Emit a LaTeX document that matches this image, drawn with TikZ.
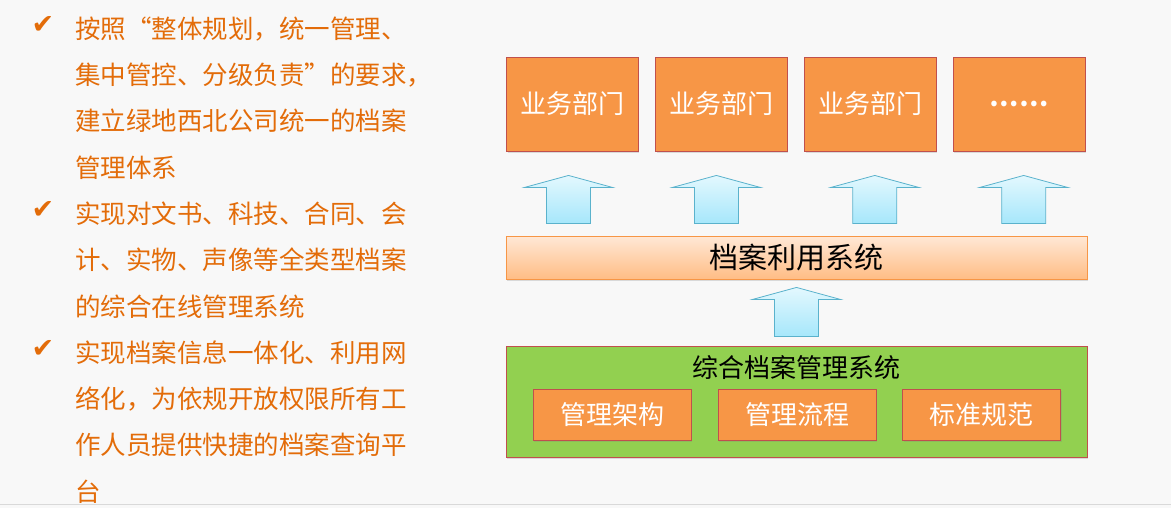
\documentclass[tikz,border=0pt]{standalone}
\usepackage{fontspec}
\newfontfamily\cjk{Noto Sans CJK SC}
\newfontfamily\symb{DejaVu Sans}
\usetikzlibrary{positioning,calc,shadows}

\definecolor{bgcol}{HTML}{F8F8F8}
\definecolor{txtorange}{HTML}{E36C09}
\definecolor{boxorange}{HTML}{F79646}
\definecolor{boxred}{HTML}{C0504D}
\definecolor{sysgreen}{HTML}{92D050}
\definecolor{arrowtop}{HTML}{E3F8FE}
\definecolor{arrowbot}{HTML}{A6E7FB}
\definecolor{arrowline}{HTML}{5AB2CC}
\definecolor{bartop}{HTML}{FFE8D6}
\definecolor{barbot}{HTML}{FFBD85}

% block arrow pointing up, from bottom point #1 to tip #2
\newcommand{\blockup}[2]{%
	\path[blockarrow] let \p1=(#1), \p2=(#2) in
		(\x1-22pt,\y1) -- (\x1-22pt,\y2-12pt) -- (\x1-44pt,\y2-12pt) -- (\x2,\y2)
		-- (\x1+44pt,\y2-12pt) -- (\x1+22pt,\y2-12pt) -- (\x1+22pt,\y1) -- cycle;}

\begin{document}
\begin{tikzpicture}
		[
			x=1pt, y=-1pt,
			every node/.style={inner sep=0pt, font=\cjk},
			item/.style={anchor=base west, text=txtorange, font=\cjk\fontsize{25.5}{30}\selectfont},
			check/.style={text=txtorange, font=\symb\fontsize{27}{30}\selectfont},
			orangebox/.style={draw=boxred, line width=0.9pt, fill=boxorange, text=white,
				font=\cjk\fontsize{26}{30}\selectfont,
				drop shadow={opacity=0.25, shadow xshift=1pt, shadow yshift=-2pt}},
			dept/.style={orangebox, minimum width=131.5pt, minimum height=94pt},
			part/.style={orangebox, minimum width=158pt, minimum height=51pt},
			usebar/.style={draw=boxorange, line width=0.9pt, top color=bartop, bottom color=barbot,
				minimum width=581pt, minimum height=43pt, font=\cjk\fontsize{29}{32}\selectfont,
				drop shadow={opacity=0.25, shadow xshift=1pt, shadow yshift=-2pt}},
			mgmt/.style={draw=boxred, line width=0.9pt, fill=sysgreen,
				minimum width=581pt, minimum height=111pt,
				drop shadow={opacity=0.25, shadow xshift=1pt, shadow yshift=-2pt}},
			blockarrow/.style={draw=arrowline, line width=0.8pt, top color=arrowtop, bottom color=arrowbot}
		]

		\fill[bgcol] (0,0) rectangle (1171,508);
		\useasboundingbox (0,0) rectangle (1171,508);
		\draw[line width=1.5pt, black!15] (0,504.5) -- (1171,504.5);

		% left text
		\foreach \txt [count=\i from 0] in {按照“整体规划，统一管理、, 集中管控、分级负责”的要求，,
			建立绿地西北公司统一的档案, 管理体系, 实现对文书、科技、合同、会,
			计、实物、声像等全类型档案, 的综合在线管理系统, 实现档案信息一体化、利用网,
			络化，为依规开放权限所有工, 作人员提供快捷的档案查询平, 台}
			\node[item] (line\i) at (75,{38.2+46.3*\i}) {\txt};
		\foreach \j in {0,4,7}
			\node[check] (chk\j) at (43,{25+46.3*\j}) {✔};

		% departments
		\node[dept] (d1) at (572.5,104) {业务部门};
		\node[dept] (d2) [right=16.5pt of d1] {业务部门};
		\node[dept] (d3) [right=16.5pt of d2] {业务部门};
		\node[dept] (d4) [right=16.5pt of d3] {\textbf{……}};

		\node[usebar] (use) at (796.5,257.5) {档案利用系统};

		\node[mgmt] (sys) at (796.5,401.5) {};
		\node[font=\cjk\fontsize{26}{30}\selectfont] (systitle) at (796.5,368) {综合档案管理系统};
		\node[part] (m2) at (797,414.5) {管理流程};
		\node[part] (m1) [left=26pt of m2] {管理架构};
		\node[part] (m3) [right=26pt of m2] {标准规范};

		% arrows
		\coordinate (a1t) at ($(d1.south)+(-4,24)$);
		\coordinate (a2t) at ($(d2.south)+(-5,24)$);
		\coordinate (a3t) at ($(d3.south)+(4.5,24)$);
		\coordinate (a4t) at ($(d4.south)+(4.5,24)$);
		\foreach \k in {1,...,4}
			\coordinate (a\k b) at ($(a\k t |- use.north)+(0,-12)$);
		\coordinate (a0t) at ($(use.south)+(0,8)$);
		\coordinate (a0b) at ($(sys.north)+(0,-9)$);

		\foreach \k in {0,...,4}
			\blockup{a\k b}{a\k t};
	\end{tikzpicture}
\end{document}
